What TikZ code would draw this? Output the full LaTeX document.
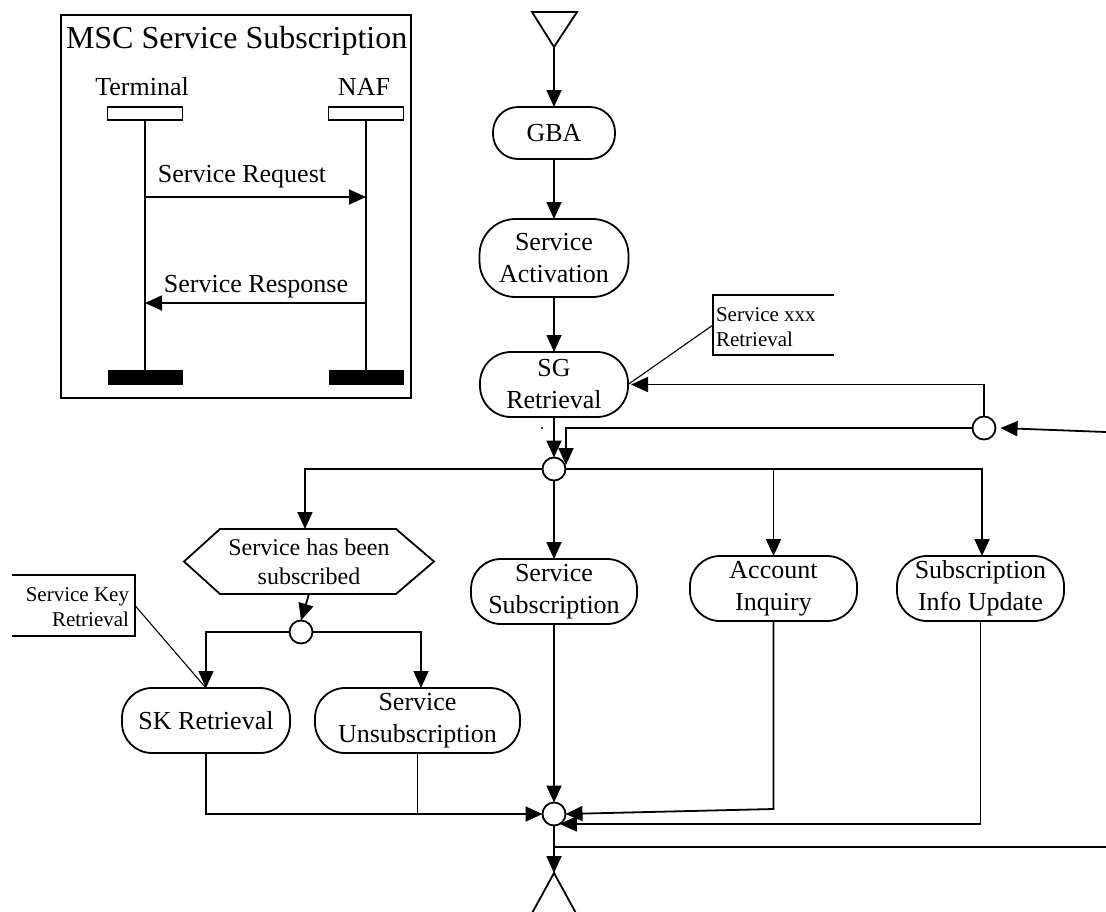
\documentclass[tikz,border=0pt]{standalone}
\usepackage{fontspec}
\setmainfont{Liberation Serif}
\usetikzlibrary{arrows.meta,calc}
\begin{document}
\begin{tikzpicture}[x=1pt,y=-1pt,
  every node/.style={inner sep=0pt, outer sep=0pt},
  ln/.style={line width=1.8pt},
  thin line/.style={line width=1.1pt},
  arr/.style={ln,-{Triangle[length=17pt,width=15pt]}},
  pill/.style={draw, ln, rectangle, rounded corners=#1, align=center, font=\fontsize{26}{32}\selectfont},
  junc/.style={draw, ln, circle, fill=white, minimum size=23pt},
  lab/.style={font=\fontsize{26}{32}\selectfont},
  small/.style={font=\fontsize{21}{25}\selectfont},
  bar/.style={fill=black, minimum width=75pt, minimum height=15pt},
  head/.style={draw, ln, minimum width=75pt, minimum height=13pt}
]
\useasboundingbox (0,0) rectangle (1106,911);
\clip (0,0) rectangle (1106,911);

% ---------------- MSC box ----------------
\node[draw, ln, minimum width=350pt, minimum height=383pt, anchor=north west] (msc) at (61,15) {};
\node[anchor=base west, font=\fontsize{32}{38}\selectfont] (msctitle) at (66,48) {MSC Service Subscription};
\node[lab, anchor=base] (tlab) at (142,95) {Terminal};
\node[lab, anchor=base] (nlab) at (364,95) {NAF};
\node[head] (tbox) at (145,113.5) {};
\node[head] (nbox) at (366,113.5) {};
\node[bar] (tend) at (145,377.5) {};
\node[bar] (nend) at (366,377.5) {};
\draw[ln] (tbox.south) -- (tend.north);
\draw[ln] (nbox.south) -- (nend.north);
\coordinate (rqa) at (145,197);
\coordinate (rqb) at (366,197);
\coordinate (rsa) at (366,303);
\coordinate (rsb) at (145,303);
\draw[arr] (rqa) -- (rqb);
\draw[arr] (rsa) -- (rsb);
\node[lab, anchor=base] (rqlab) at (242,182) {Service Request};
\node[lab, anchor=base] (rslab) at (256,292) {Service Response};

% ---------------- main flow ----------------
\draw[ln] (532,12) -- (577,12) -- (554,47) -- cycle;
\coordinate (st) at (554,47);

\node[pill=25pt, minimum width=122pt, minimum height=52pt] (gba) at (554,133) {GBA};
\node[pill=36pt, minimum width=149pt, minimum height=78pt] (act) at (554,258) {Service\\Activation};
\node[pill=31pt, minimum width=148pt, minimum height=65pt] (sg) at (554,384.5) {SG\\Retrieval};

\node[junc] (m1) at (554,469) {};
\node[junc] (lc) at (984,428) {};
\coordinate (inR) at (1106,432);

% annotation Service xxx Retrieval
\node[minimum width=121pt, minimum height=60pt] (sxx) at (773.5,325) {};
\draw[ln] (sxx.north east) -- (sxx.north west) -- (sxx.south west) -- (sxx.south east);
\node[small, anchor=west, align=left] (sxxt) at ([xshift=3pt,yshift=-2pt]sxx.west) {Service xxx\\Retrieval};
\draw[thin line] (sxx.west) -- (sg.east);

% hexagon decision
\node[minimum width=250pt, minimum height=65pt, align=center, font=\fontsize{24}{29}\selectfont] (hex) at (309,561.5) {Service has been\\subscribed};
\draw[ln] (hex.west) -- ([xshift=36pt]hex.north west) -- ([xshift=-38pt]hex.north east) -- (hex.east) -- ([xshift=-38pt]hex.south east) -- ([xshift=36pt]hex.south west) -- cycle;

\node[junc] (m3) at (301,632) {};
\node[pill=30pt, minimum width=168pt, minimum height=65pt] (sk) at (206,720.5) {SK Retrieval};
\node[pill=30pt, minimum width=205pt, minimum height=65pt] (unsub) at (417.5,720.5) {Service\\Unsubscription};

% annotation Service Key Retrieval
\node[minimum width=123pt, minimum height=61pt] (skr) at (73.5,605.5) {};
\draw[ln] (skr.north west) -- (skr.north east) -- (skr.south east) -- (skr.south west);
\node[small, anchor=east, align=right] (skrt) at ([xshift=-6pt,yshift=-2pt]skr.east) {Service Key\\Retrieval};
\draw[thin line] (skr.east) -- (sk.north);

\node[pill=30pt, minimum width=166pt, minimum height=65pt] (ss) at (554,591.5) {Service\\Subscription};
\node[pill=30pt, minimum width=167pt, minimum height=65pt] (ai) at (773.5,588.5) {Account\\Inquiry};
\node[pill=30pt, minimum width=167pt, minimum height=65pt] (siu) at (980.5,588.5) {Subscription\\Info Update};

\node[junc] (m2) at (554,814) {};
\coordinate (et) at (554,873);
\coordinate (outR) at (1106,847);
\draw[ln] (et) -- (531,915) -- (577,915) -- cycle;

% ---------------- connectors ----------------
\draw[arr] (st) -- (gba.north);
\draw[arr] (gba.south) -- (act.north);
\draw[arr] (act.south) -- (sg.north);
\draw[arr] (sg.south) -- (m1.north);
\draw[arr] (inR) -- ([xshift=5pt]lc.east);
\draw[arr] (lc.north) -- (lc.north |- sg.east) -- ([xshift=3pt]sg.east);
\draw[arr] (lc.west) -| ($(m1)+(12,-4)$);
\fill (542,428) circle (1.2pt);

\draw[arr] (m1.west) -| ([xshift=-4pt]hex.north);
\draw[arr] (m1.south) -- (ss.north);
\draw[arr] (m1.east) -| (ai.north);
\draw[arr] (m1.east) -| ([xshift=1.5pt]siu.north);

\draw[arr] (hex.south) -- (m3.north);
\draw[arr] (m3.west) -| (sk.north);
\draw[arr] (m3.east) -| ([xshift=3.5pt]unsub.north);

\draw[arr] (sk.south) |- (m2.west);
\draw[ln] (unsub.south) -- (unsub.south |- m2.west);
\draw[arr] (ss.south) -- (m2.north);
\draw[arr] (ai.south) -- ++(0,188) -- (m2.east);
\draw[arr] (siu.south) -- (siu.south |- m2.-60) -- (m2.-60);
\draw[arr] (m2.south) -- (et);
\draw[ln] (outR) -- (outR -| m2.south);
\end{tikzpicture}
\end{document}
